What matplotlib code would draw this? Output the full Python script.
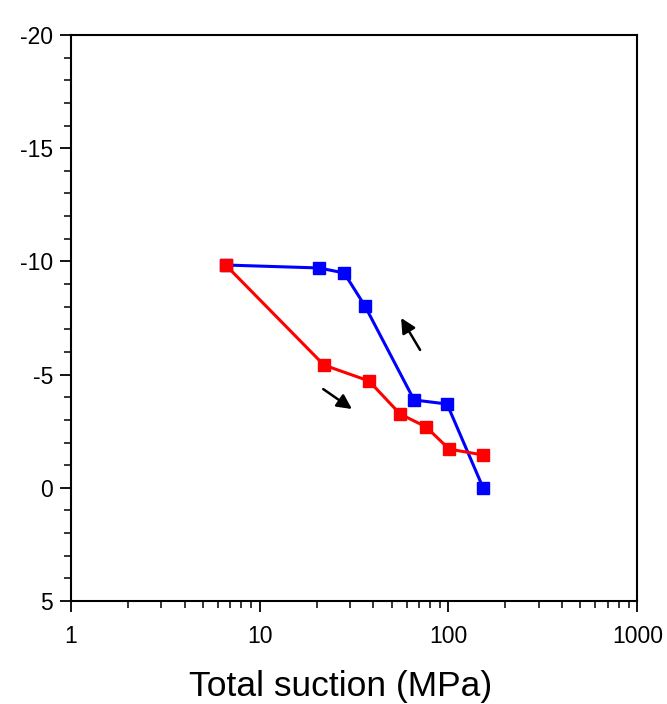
import matplotlib
matplotlib.use('Agg')
import matplotlib.pyplot as plt
from matplotlib.ticker import LogLocator, MultipleLocator, FuncFormatter

plt.rcParams['font.family'] = ['Liberation Sans', 'DejaVu Sans']

# drying path (red)
red_suction = [6.6, 21.9, 37.9, 55.4, 76.1, 100.7, 152.5]
red_value = [-9.84, -5.42, -4.72, -3.26, -2.69, -1.71, -1.45]

# wetting path (blue)
blue_suction = [6.6, 20.6, 28.0, 36.1, 65.7, 98.3, 152.5]
blue_value = [-9.84, -9.71, -9.49, -8.03, -3.88, -3.70, 0.0]

# direction arrows: (tail, head)
arrows = [((70.7, -6.09), (56.1, -7.5)),
          ((21.7, -4.36), (30.8, -3.48))]

fig = plt.figure(figsize=(6.67, 7.04), dpi=100)
ax = fig.add_axes([0.1064, 0.1463, 0.849, 0.804])

ax.plot(blue_suction, blue_value, color='#0000ff', lw=2.2, marker='s',
        ms=8.5, mec='#0000ff', mfc='#0000ff', zorder=3)
ax.plot(red_suction, red_value, color='#ff0000', lw=2.2, marker='s',
        ms=8.5, mec='#ff0000', mfc='#ff0000', zorder=4)

for tail, head in arrows:
    ax.annotate('', xy=head, xytext=tail,
                arrowprops=dict(arrowstyle='-|>', color='black', lw=1.8,
                                mutation_scale=22, shrinkA=0, shrinkB=0))

ax.set_xscale('log')
ax.set_xlim(1, 1000)
ax.set_ylim(5, -20)

ax.xaxis.set_major_locator(LogLocator(base=10))
ax.xaxis.set_minor_locator(LogLocator(base=10, subs=range(2, 10)))
ax.xaxis.set_major_formatter(FuncFormatter(lambda x, p: format(int(round(x)))))
ax.xaxis.set_minor_formatter(FuncFormatter(lambda x, p: ''))
ax.yaxis.set_major_locator(MultipleLocator(5))
ax.yaxis.set_minor_locator(MultipleLocator(1))
ax.yaxis.set_major_formatter(FuncFormatter(lambda y, p: format(int(round(y)))))

ax.tick_params(which='major', direction='out', length=8, width=1.3,
               labelsize=16.5, pad=5)
ax.tick_params(which='minor', direction='out', length=5, width=1.1)
ax.tick_params(axis='x', which='major', pad=9)
for s in ax.spines.values():
    s.set_linewidth(1.5)

ax.set_xlabel('Total suction (MPa)', fontsize=25.5)
ax.xaxis.set_label_coords(0.477, -0.122)

plt.savefig('out.png', dpi=100)
